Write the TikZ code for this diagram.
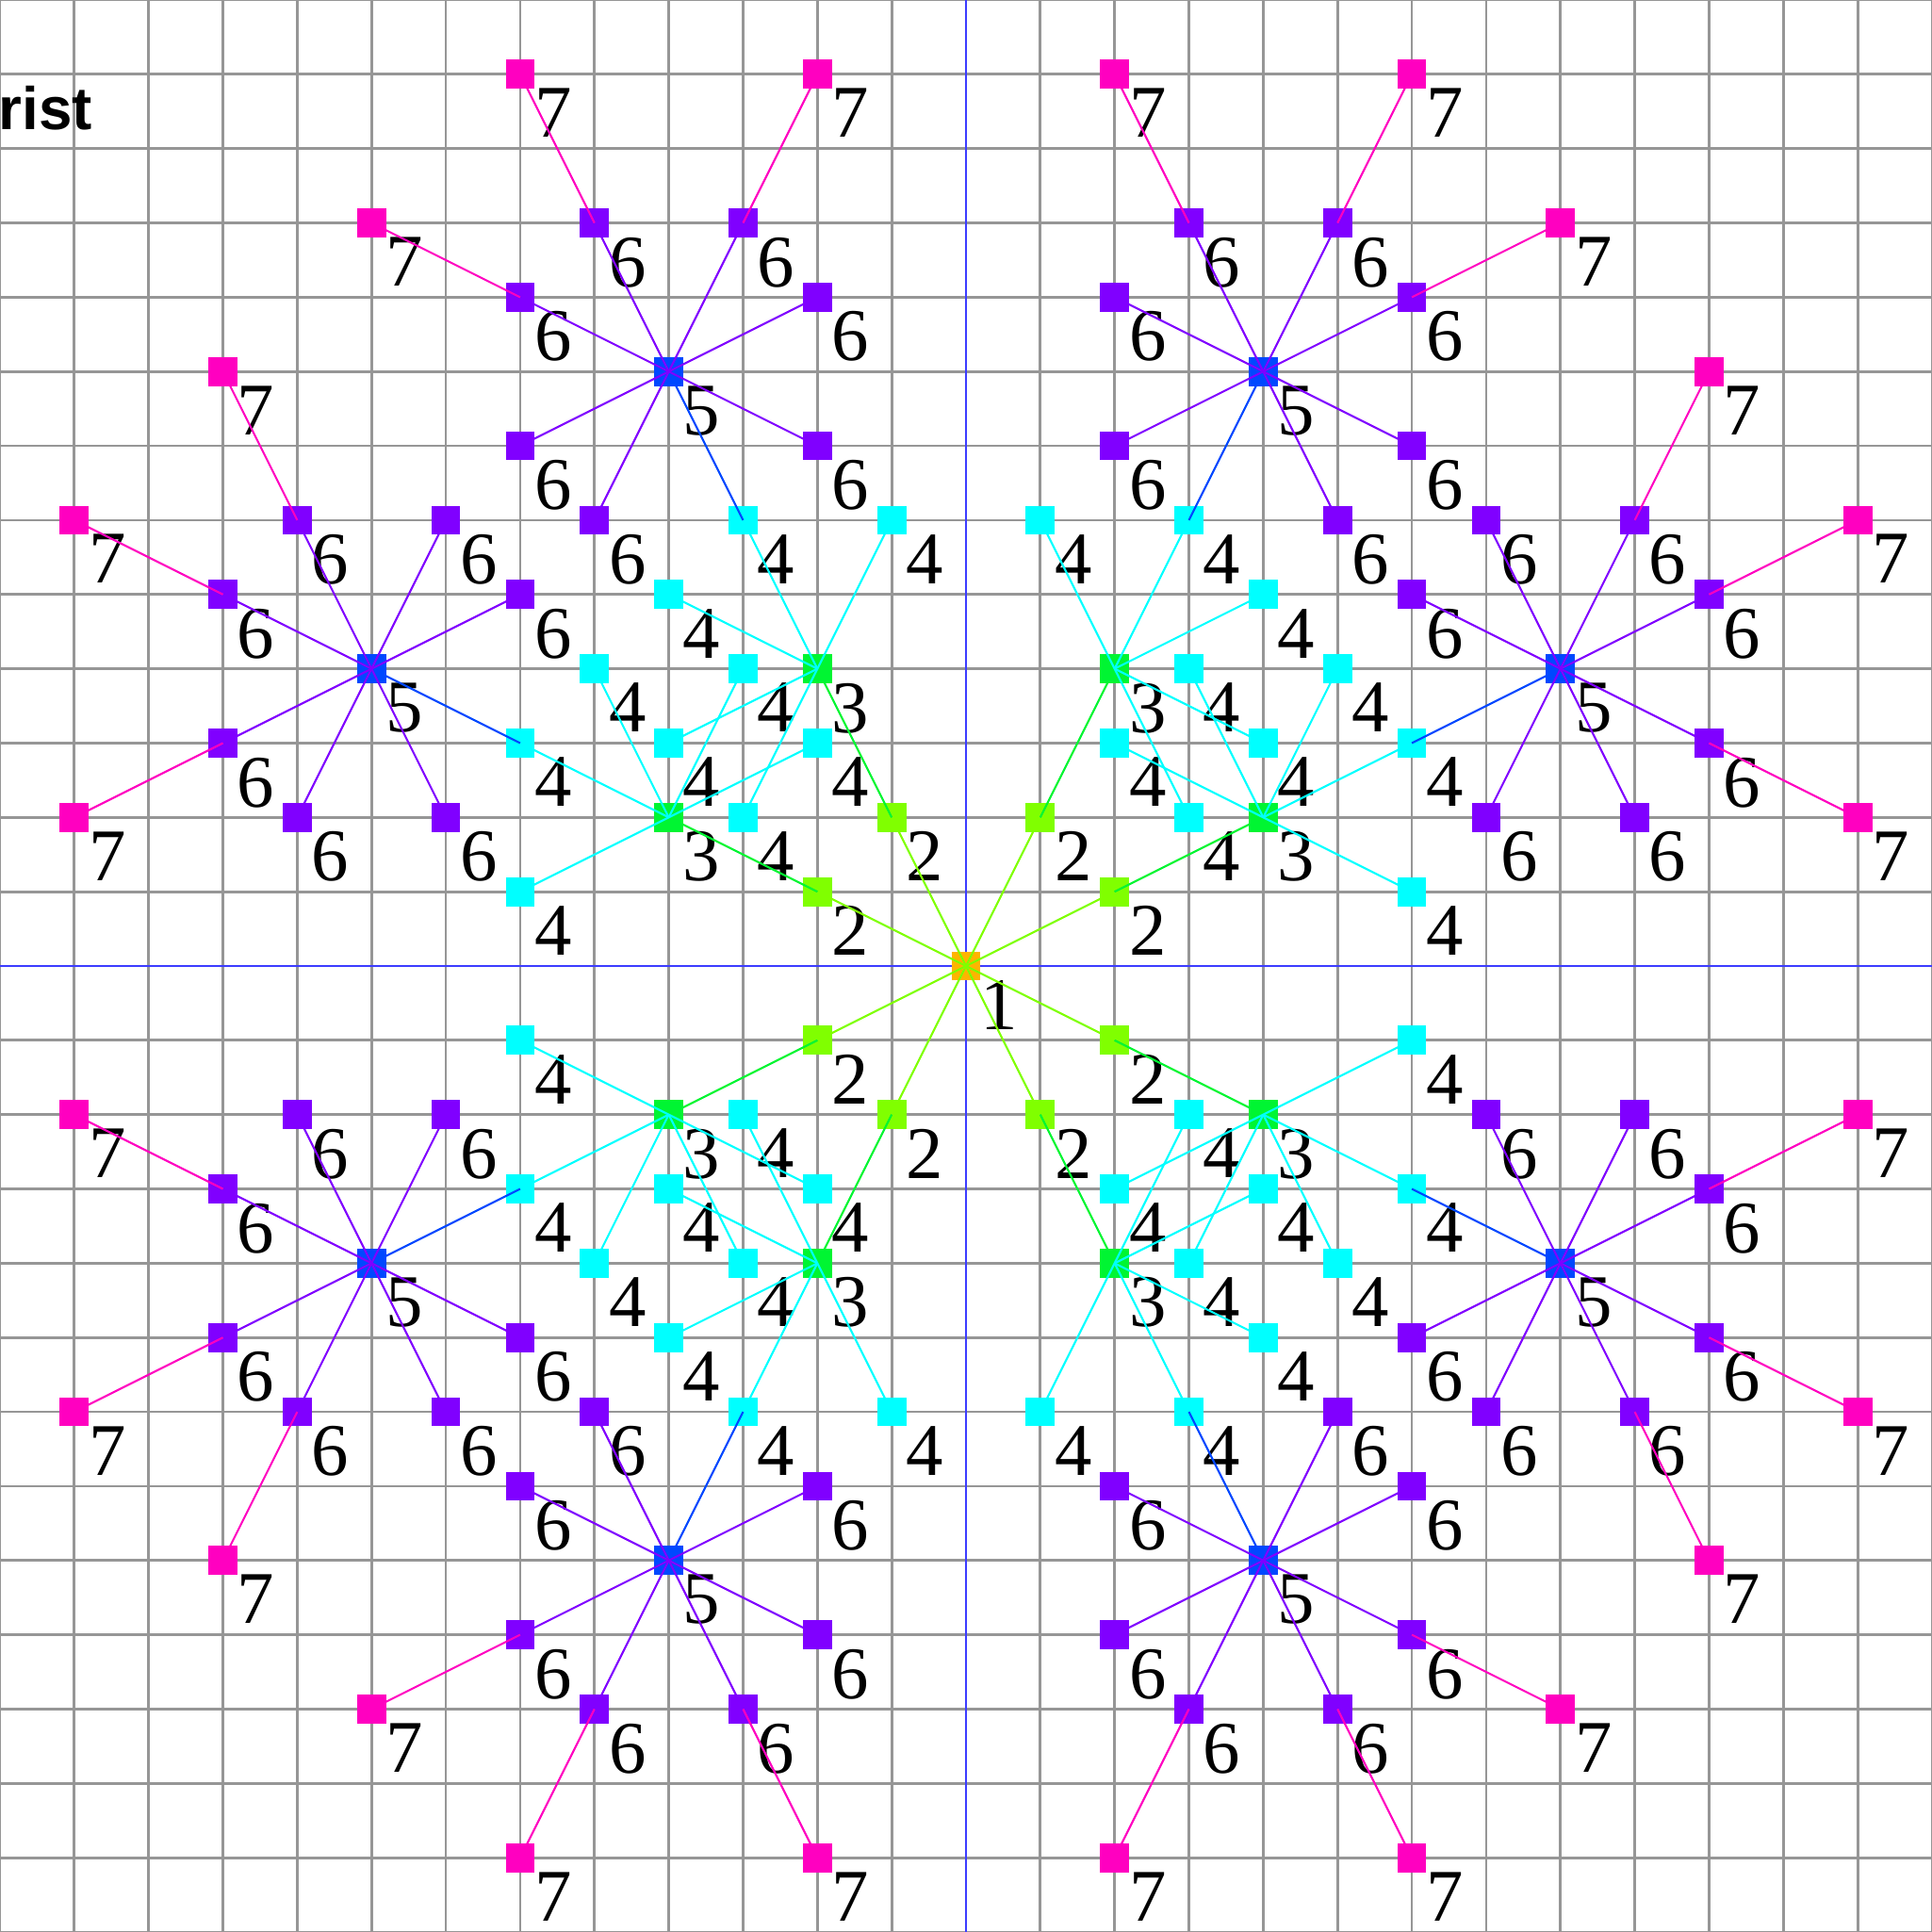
\documentclass[tikz,border=0pt]{standalone}
\usepackage{fontspec}
\setmainfont{Liberation Serif}
\newfontfamily\titlefont{Liberation Sans}
\usepackage{xcolor}
\usetikzlibrary{positioning}

\definecolor{lv1}{RGB}{255,180,0}
\definecolor{lv2}{RGB}{128,255,0}
\definecolor{lv3}{RGB}{0,245,50}
\definecolor{lv4}{RGB}{0,255,255}
\definecolor{lv5}{RGB}{0,72,255}
\definecolor{lv6}{RGB}{128,0,255}
\definecolor{lv7}{RGB}{255,0,192}
\definecolor{gridgray}{RGB}{150,150,150}
\definecolor{axisblue}{RGB}{60,60,255}

% one eighth of the tree: level/x/y/parent x/parent y
\def\branch{2/1/2/0/0, 3/2/4/1/2,
  4/1/6/2/4, 4/3/6/2/4, 4/4/5/2/4, 4/4/3/2/4, 4/3/2/2/4,
  5/4/8/3/6,
  6/3/10/4/8, 6/5/10/4/8, 6/2/9/4/8, 6/6/9/4/8, 6/2/7/4/8, 6/6/7/4/8, 6/5/6/4/8,
  7/2/12/3/10, 7/6/12/5/10, 7/8/10/6/9}

\begin{document}
\begin{tikzpicture}[x=1cm, y=1cm,
    every node/.append style={font=\fontsize{28.45}{30}\selectfont},
    sq/.style={fill=#1, draw=none, minimum size=0.39cm, inner sep=0pt, outer sep=0pt},
    num/.style={inner sep=0pt, outer sep=0pt, text=black},
    lnk/.style={draw=#1, line width=0.75pt},
]
\useasboundingbox (-13,-13) rectangle (13,13);
\draw[gridgray, line width=1pt] (-13,-13) grid (13,13);
\draw[axisblue, line width=1pt] (-13,0) -- (13,0) (0,-13) -- (0,13);

\node[font={\fontsize{23}{25}\titlefont\bfseries}, anchor=base east, inner sep=0pt] (title) at (-11.75,11.26) {rist};

\node[sq=lv1] (k0_0) at (0,0) {};
\node[num, below right=0pt and 0pt of k0_0] (t0_0) {1};

\foreach \sx in {-1,1}
\foreach \sy in {-1,1}
\foreach \sw in {0,1}
\foreach \lv/\a/\b/\pa/\pb in \branch {
  \pgfmathtruncatemacro\xx{\sx*((1-\sw)*\a+\sw*\b)}
  \pgfmathtruncatemacro\yy{\sy*((1-\sw)*\b+\sw*\a)}
  \node[sq=lv\lv] (k\xx_\yy) at (\xx,\yy) {};
  \node[num, below right=0pt and 0pt of k\xx_\yy] (t\xx_\yy) {\lv};
}

\foreach \sx in {-1,1}
\foreach \sy in {-1,1}
\foreach \sw in {0,1}
\foreach \lv/\a/\b/\pa/\pb in \branch {
  \pgfmathtruncatemacro\xx{\sx*((1-\sw)*\a+\sw*\b)}
  \pgfmathtruncatemacro\yy{\sy*((1-\sw)*\b+\sw*\a)}
  \pgfmathtruncatemacro\px{\sx*((1-\sw)*\pa+\sw*\pb)}
  \pgfmathtruncatemacro\py{\sy*((1-\sw)*\pb+\sw*\pa)}
  \draw[lnk=lv\lv] (k\px_\py.center) -- (k\xx_\yy.center);
}

\end{tikzpicture}
\end{document}
